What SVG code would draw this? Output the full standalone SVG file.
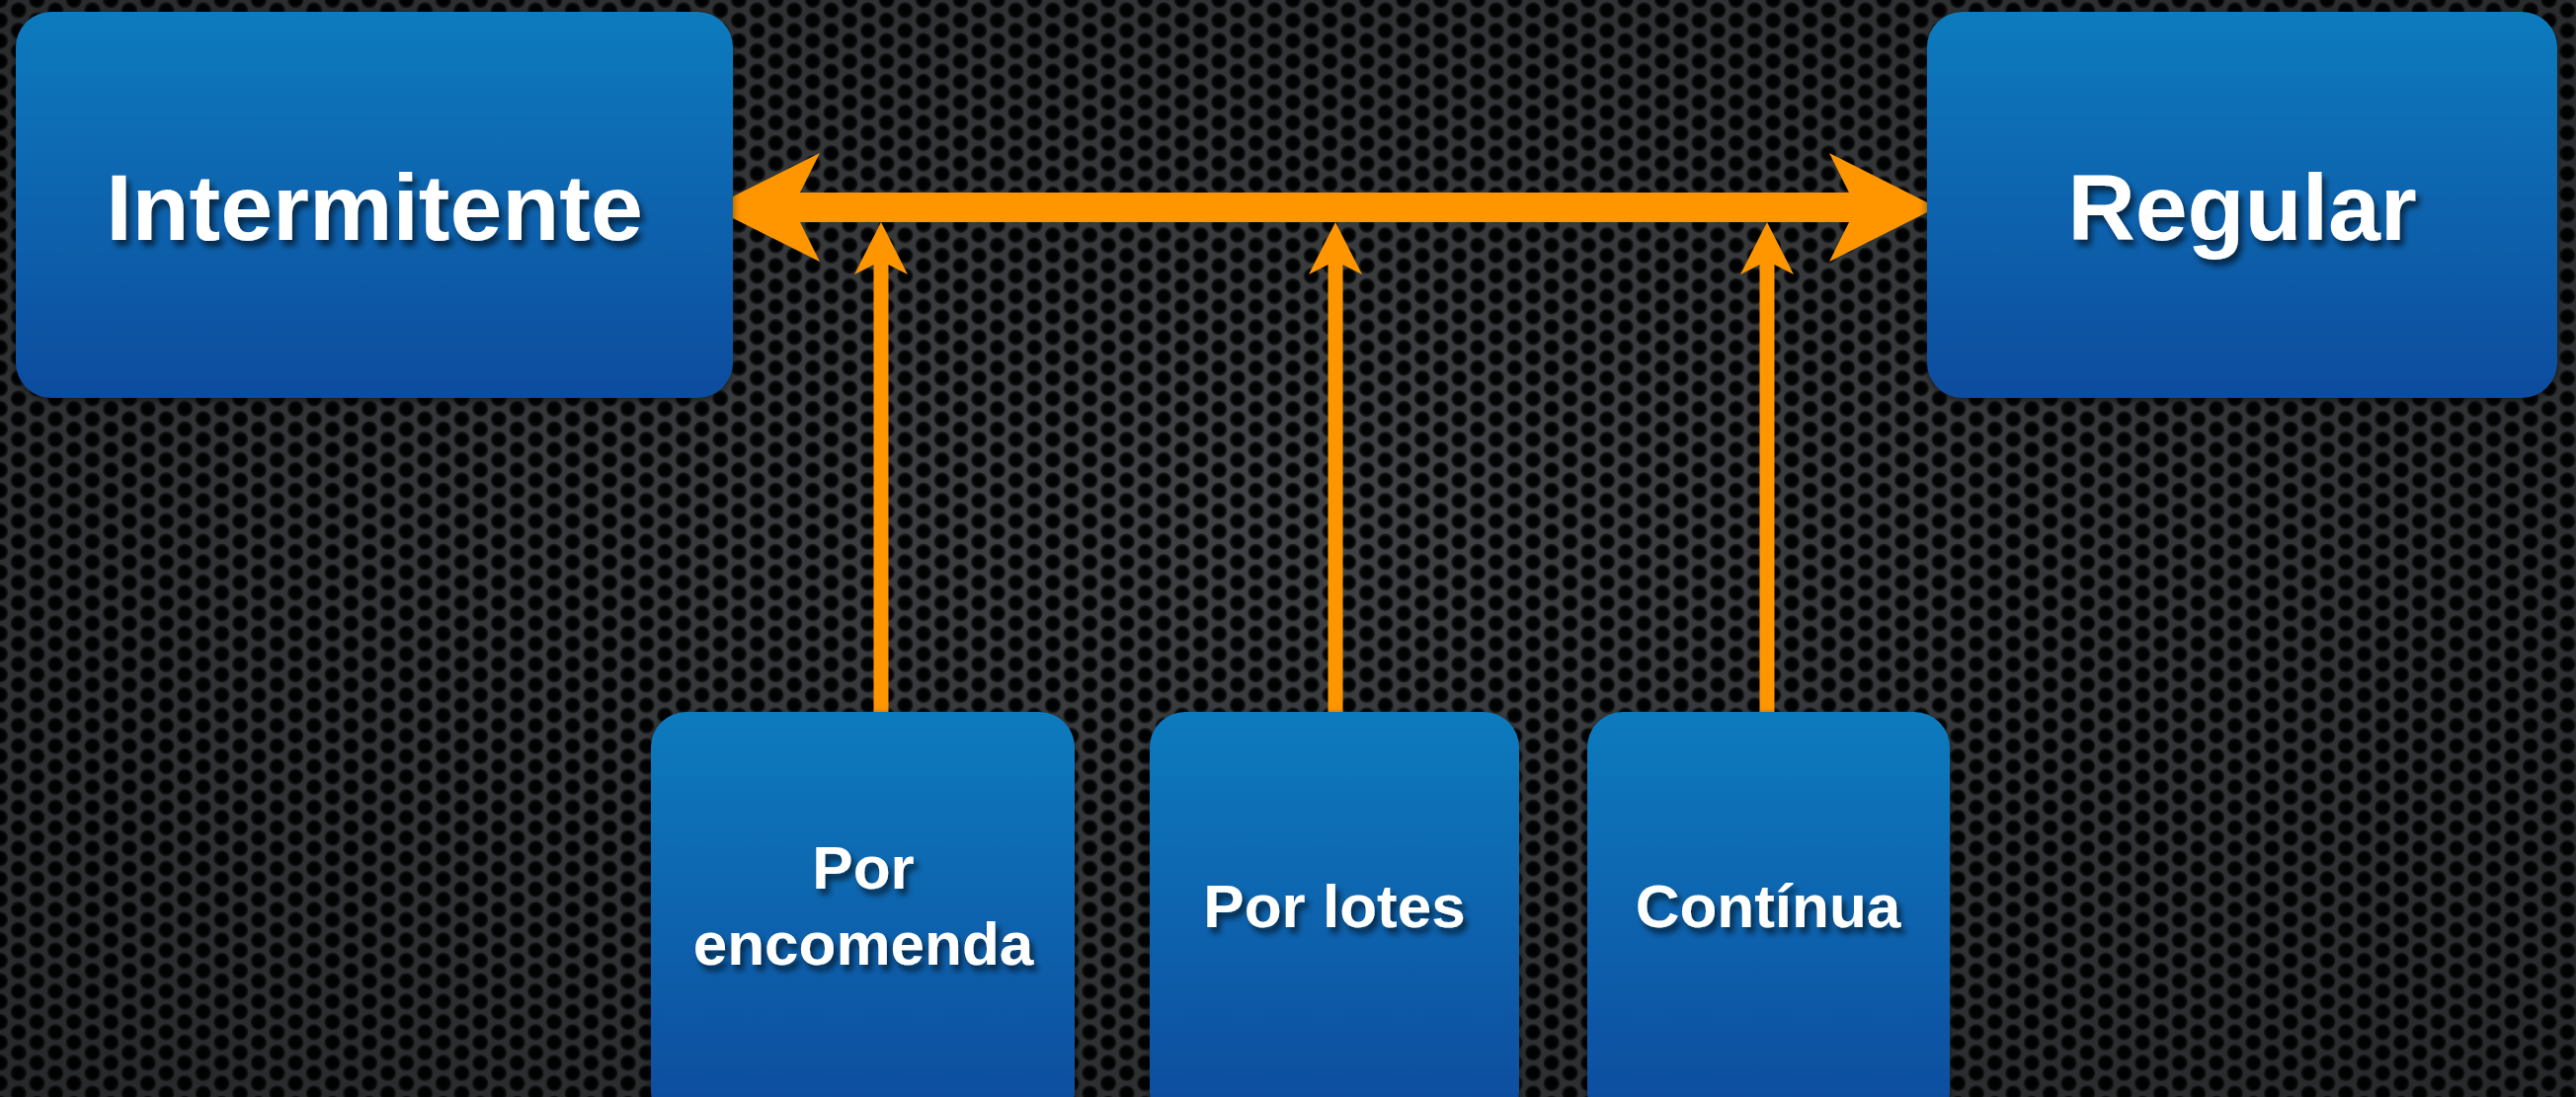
<svg xmlns="http://www.w3.org/2000/svg" width="2608" height="1111" viewBox="0 0 2608 1111">
<defs>
<radialGradient id="hole">
<stop offset="0" stop-color="#000"/>
<stop offset="0.6" stop-color="#020303"/>
<stop offset="0.85" stop-color="#1c1e20"/>
<stop offset="1" stop-color="#3e4043" stop-opacity="0"/>
</radialGradient>
<pattern id="holes" x="0" y="0" width="37.4" height="20.7" patternUnits="userSpaceOnUse">
<rect width="37.4" height="20.7" fill="#404245"/>
<circle cx="0" cy="0" r="9" fill="url(#hole)"/>
<circle cx="37.4" cy="0" r="9" fill="url(#hole)"/>
<circle cx="0" cy="20.7" r="9" fill="url(#hole)"/>
<circle cx="37.4" cy="20.7" r="9" fill="url(#hole)"/>
<circle cx="18.7" cy="10.35" r="9" fill="url(#hole)"/>
</pattern>
<radialGradient id="vign" cx="50%" cy="45%" r="75%">
<stop offset="0" stop-color="#000" stop-opacity="0"/>
<stop offset="1" stop-color="#000" stop-opacity="0.4"/>
</radialGradient>
<linearGradient id="boxfill" x1="0" y1="0" x2="0" y2="1">
<stop offset="0" stop-color="#0a7bbe"/>
<stop offset="1" stop-color="#0a4c9e"/>
</linearGradient>
<linearGradient id="boxfill2" gradientUnits="userSpaceOnUse" x1="0" y1="721" x2="0" y2="1130">
<stop offset="0" stop-color="#0a7bbe"/>
<stop offset="1" stop-color="#0a4c9e"/>
</linearGradient>
<filter id="tshadow" x="-10%" y="-30%" width="130%" height="170%">
<feGaussianBlur in="SourceAlpha" stdDeviation="3"/>
<feOffset dx="4" dy="6" result="b"/>
<feComponentTransfer><feFuncA type="linear" slope="0.6"/></feComponentTransfer>
<feMerge><feMergeNode/><feMergeNode in="SourceGraphic"/></feMerge>
</filter>
<filter id="bshadow" x="-10%" y="-10%" width="120%" height="120%">
<feGaussianBlur in="SourceAlpha" stdDeviation="4"/>
<feOffset dx="0" dy="3"/>
<feComponentTransfer><feFuncA type="linear" slope="0.5"/></feComponentTransfer>
<feMerge><feMergeNode/><feMergeNode in="SourceGraphic"/></feMerge>
</filter>
</defs>
<style>
.box{fill:url(#boxfill);filter:url(#bshadow)}
.box2{fill:url(#boxfill2);filter:url(#bshadow)}
.lbl{font-family:"Liberation Sans",Arial,Helvetica,sans-serif;font-weight:bold;fill:#ffffff;text-anchor:middle;filter:url(#tshadow)}
.big{font-size:95px}
.small{font-size:62px}
.arrow{fill:#ff9600}
</style>
<rect width="2608" height="1111" fill="url(#holes)"/>
<rect width="2608" height="1111" fill="url(#vign)"/>

<g id="connectors">
<path class="arrow" d="M720,210 L830,155 L810,195 L1872,195 L1852,155 L1961,210 L1852,265 L1872,225 L810,225 L830,265 Z"/>
<path class="arrow" d="M892,225 L919,278 L899.5,268 L899.5,728 L884.5,728 L884.5,268 L865,278 Z"/>
<path class="arrow" d="M1352,225 L1379,278 L1359.5,268 L1359.5,728 L1344.5,728 L1344.5,268 L1325,278 Z"/>
<path class="arrow" d="M1789,225 L1816,278 L1796.5,268 L1796.5,728 L1781.5,728 L1781.5,268 L1762,278 Z"/>
</g>

<g id="node-intermitente">
<rect class="box" x="16" y="12" width="726" height="391" rx="36"/>
<text class="lbl big" x="379" y="243">Intermitente</text>
</g>
<g id="node-regular">
<rect class="box" x="1951" y="12" width="638" height="391" rx="36"/>
<text class="lbl big" x="2270" y="243">Regular</text>
</g>
<g id="node-encomenda">
<rect class="box2" x="659" y="721" width="429" height="420" rx="36"/>
<text class="lbl small" x="874" y="900">Por</text>
<text class="lbl small" x="874" y="977">encomenda</text>
</g>
<g id="node-lotes">
<rect class="box2" x="1164" y="721" width="374" height="420" rx="36"/>
<text class="lbl small" x="1351" y="939">Por lotes</text>
</g>
<g id="node-continua">
<rect class="box2" x="1607" y="721" width="367" height="420" rx="36"/>
<text class="lbl small" x="1790" y="939">Contínua</text>
</g>
</svg>
